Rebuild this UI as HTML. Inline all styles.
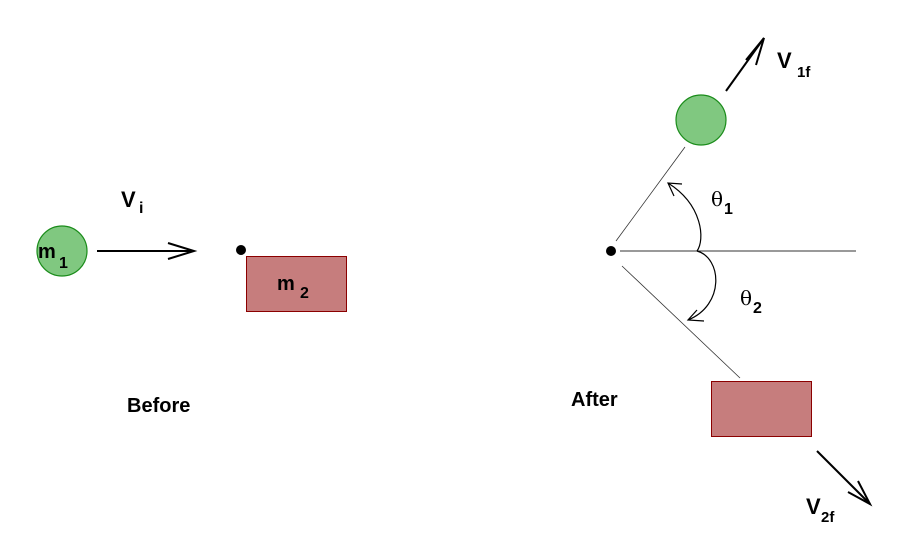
<!DOCTYPE html>
<html><head><style>
html,body{margin:0;padding:0;background:#fff;}
svg{display:block;}
text{font-family:"Liberation Sans",sans-serif;font-weight:bold;fill:#000;}
.th{font-family:"DejaVu Serif","Liberation Serif",serif;font-weight:normal;}
</style></head><body>
<svg width="903" height="548" viewBox="0 0 903 548" xmlns="http://www.w3.org/2000/svg">
<!-- Before -->
<circle cx="62" cy="251" r="25" fill="#80c880" stroke="#1a8c1a" stroke-width="1.2"/>
<text x="38" y="258" font-size="20">m</text>
<text x="59" y="268" font-size="16">1</text>
<line x1="97" y1="251" x2="194" y2="251" stroke="#000" stroke-width="2"/>
<polyline points="168,243 194,251 168,259" fill="none" stroke="#000" stroke-width="2"/>
<text x="121" y="207" font-size="22">V</text>
<text x="139" y="213" font-size="16">i</text>
<circle cx="241" cy="250" r="5" fill="#000"/>
<rect x="246.5" y="256.5" width="100" height="55" fill="#c67d7d" stroke="#8b0000" stroke-width="1"/>
<text x="277" y="290" font-size="20">m</text>
<text x="300" y="298" font-size="16">2</text>
<text x="127" y="412" font-size="20">Before</text>

<!-- After -->
<circle cx="611" cy="251" r="5" fill="#000"/>
<line x1="620" y1="251" x2="856" y2="251" stroke="#333" stroke-width="1"/>
<line x1="616" y1="241" x2="685" y2="147" stroke="#333" stroke-width="0.8"/>
<line x1="622" y1="266" x2="740" y2="378" stroke="#333" stroke-width="0.8"/>
<circle cx="701" cy="120" r="25" fill="#80c880" stroke="#1a8c1a" stroke-width="1.2"/>
<line x1="726" y1="91" x2="764" y2="38" stroke="#000" stroke-width="2"/>
<polyline points="746,60 764,38 756,65" fill="none" stroke="#000" stroke-width="2"/>
<text x="777" y="68" font-size="22">V</text>
<text x="797" y="77" font-size="15">1f</text>
<rect x="711.5" y="381.5" width="100" height="55" fill="#c67d7d" stroke="#8b0000" stroke-width="1"/>
<line x1="817" y1="451" x2="870" y2="504" stroke="#000" stroke-width="2"/>
<polyline points="858,481 870,504 848,492" fill="none" stroke="#000" stroke-width="2"/>
<text x="806" y="514" font-size="22">V</text>
<text x="821" y="522" font-size="15">2f</text>
<text x="571" y="406" font-size="20">After</text>
<!-- arcs -->
<path d="M697,251 C705,240 703,205 668,183" fill="none" stroke="#000" stroke-width="1.2"/>
<polyline points="682,184 668,183 674,196" fill="none" stroke="#000" stroke-width="1.2"/>
<path d="M697,251 C722,258 725,305 688,320" fill="none" stroke="#000" stroke-width="1.2"/>
<polyline points="697,310 688,320 704,321" fill="none" stroke="#000" stroke-width="1.2"/>
<text class="th" x="711" y="206" font-size="20">θ</text>
<text x="724" y="214" font-size="16" font-weight="normal">1</text>
<text class="th" x="740" y="305" font-size="20">θ</text>
<text x="753" y="313" font-size="16" font-weight="normal">2</text>
</svg>
</body></html>
